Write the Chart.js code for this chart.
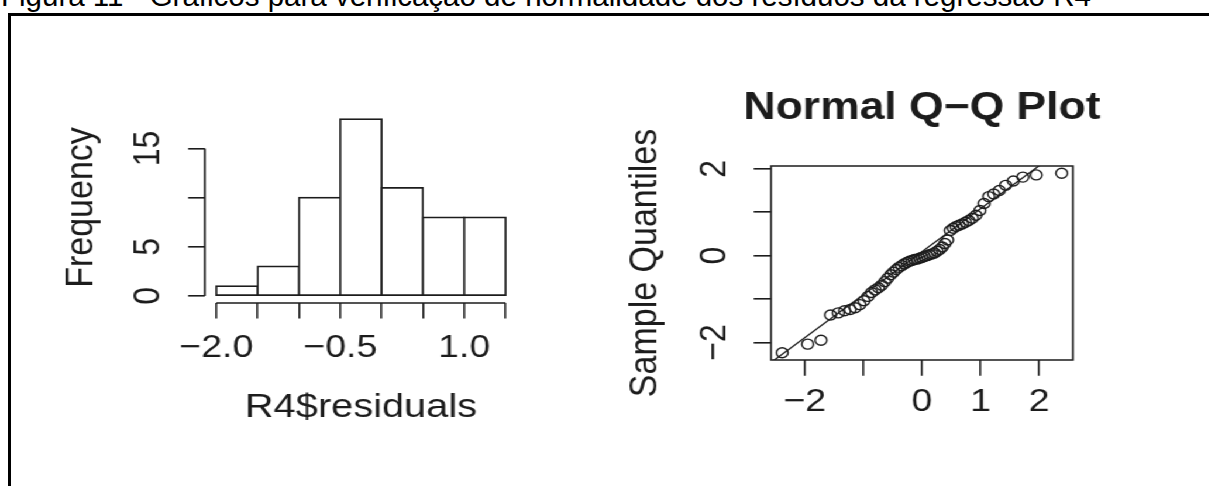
<!DOCTYPE html>
<html lang="pt">
<head>
<meta charset="utf-8">
<title>Figura 11</title>
<script src="https://cdn.jsdelivr.net/npm/chart.js@4.4.1/dist/chart.umd.min.js"></script>
<style>
  html, body { margin: 0; padding: 0; background: #fff; width: 1209px; height: 486px; overflow: hidden; }
  #caption { position: absolute; left: 1px; top: -19.5px; font: 29.5px/1 "Liberation Sans", Arial, sans-serif; color: #000; white-space: nowrap; }
  #panels { position: absolute; left: 0; top: 0; width: 1034px; height: 486px; transform: scaleX(1.17); transform-origin: 0 0; }
  #hist { position: absolute; left: 0; top: 0; }
  #qq { position: absolute; left: 520px; top: 0; }
  #frameTop { position: absolute; left: 8px; top: 12.5px; width: 1201px; height: 3px; background: #000; }
  #frameLeft { position: absolute; left: 8px; top: 12.5px; width: 3px; height: 474px; background: #000; }
</style>
</head>
<body>
<div id="caption">Figura 11 - Gráficos para verificação de normalidade dos resíduos da regressão R4</div>
<div id="panels">
  <canvas id="hist" width="500" height="486"></canvas>
  <canvas id="qq" width="513" height="486"></canvas>
</div>
<div id="frameTop"></div>
<div id="frameLeft"></div>
<script>
// Histogram of the residuals: bin edges and frequencies
const histBreaks = [-2.0, -1.5, -1.0, -0.5, 0.0, 0.5, 1.0, 1.5];
const histCounts = [1, 3, 10, 18, 11, 8, 8];
const histXTicks = [-2.0, -1.5, -1.0, -0.5, 0.0, 0.5, 1.0, 1.5];
const histXTickLabels = ['\u22122.0', '', '', '\u22120.5', '', '', '1.0', ''];
const histYTicks = [0, 5, 10, 15];
const histYTickLabels = ['0', '5', '', '15'];

// Normal Q-Q plot: theoretical vs sample quantiles (59 residuals)
const qqTheoretical = [
  -2.387, -1.952, -1.724, -1.561, -1.430, -1.321, -1.226, -1.141, -1.062, -0.990,
  -0.923, -0.860, -0.800, -0.743, -0.688, -0.635, -0.584, -0.534, -0.485, -0.438,
  -0.392, -0.347, -0.302, -0.258, -0.214, -0.171, -0.128, -0.085, -0.042, 0.000,
   0.042,  0.085,  0.128,  0.171,  0.214,  0.258,  0.302,  0.347,  0.392,  0.438,
   0.485,  0.534,  0.584,  0.635,  0.688,  0.743,  0.800,  0.860,  0.923,  0.990,
   1.062,  1.141,  1.226,  1.321,  1.430,  1.561,  1.724,  1.952,  2.387
];
const qqSample = [
  -2.24, -2.04, -1.95, -1.37, -1.32, -1.27, -1.24, -1.20, -1.13, -1.04,
  -0.94, -0.85, -0.79, -0.74, -0.68, -0.60, -0.52, -0.44, -0.38, -0.32,
  -0.27, -0.23, -0.19, -0.16, -0.13, -0.11, -0.09, -0.08, -0.06, -0.04,
  -0.02,  0.00,  0.02,  0.04,  0.06,  0.10,  0.14,  0.20,  0.28,  0.36,
   0.58,  0.63,  0.67,  0.70,  0.73,  0.77,  0.81,  0.86,  0.93,  1.04,
   1.20,  1.36,  1.42,  1.50,  1.62,  1.72,  1.81,  1.86,  1.90
];
// reference line (qqline) endpoints
const qqLineX = [-3.0, 3.0];
const qqLineY = [-2.88, 3.06];
const qqXTicks = [-2, -1, 0, 1, 2];
const qqXTickLabels = ['\u22122', '', '0', '1', '2'];
const qqYTicks = [-2, -1, 0, 1, 2];
const qqYTickLabels = ['\u22122', '', '0', '', '2'];

const INK = '#1c1c1c';
const FAMILY = '"Liberation Sans", Arial, Helvetica, sans-serif';
const LABEL_SIZE = 34;
Chart.defaults.font.family = FAMILY;
Chart.defaults.font.size = 32;
Chart.defaults.color = INK;

// R-style axis limits: data range widened by 4% on each side
function padRange(lo, hi) {
  const d = (hi - lo) * 0.04;
  return [lo - d, hi + d];
}

function fixedTicks(values) {
  return scale => { scale.ticks = values.map(v => ({ value: v })); };
}

// Axis lines limited to the tick range, rotated y labels, optional box and title
function rAxes(cfg) {
  return {
    id: 'rAxes',
    afterDraw(chart) {
      const { ctx, chartArea: a } = chart;
      const x = chart.scales.x, y = chart.scales.y;
      ctx.save();
      ctx.strokeStyle = INK;
      ctx.lineWidth = 1.6;
      ctx.beginPath();
      if (cfg.box) {
        ctx.rect(a.left, a.top, a.right - a.left, a.bottom - a.top);
      } else {
        ctx.moveTo(x.getPixelForValue(cfg.xTicks[0]), a.bottom);
        ctx.lineTo(x.getPixelForValue(cfg.xTicks[cfg.xTicks.length - 1]), a.bottom);
        ctx.moveTo(a.left, y.getPixelForValue(cfg.yTicks[0]));
        ctx.lineTo(a.left, y.getPixelForValue(cfg.yTicks[cfg.yTicks.length - 1]));
      }
      ctx.stroke();

      ctx.fillStyle = INK;
      ctx.font = '32px ' + FAMILY;
      ctx.textAlign = 'center';
      ctx.textBaseline = 'middle';
      cfg.yTicks.forEach((v, i) => {
        const t = cfg.yLabels[i];
        if (!t) return;
        ctx.save();
        ctx.translate(a.left - cfg.yLabelGap, y.getPixelForValue(v));
        ctx.rotate(-Math.PI / 2);
        ctx.fillText(t, 0, 0);
        ctx.restore();
      });

      if (cfg.title) {
        ctx.font = 'bold 38px ' + FAMILY;
        ctx.textBaseline = 'alphabetic';
        ctx.fillText(cfg.title, (a.left + a.right) / 2, cfg.titleBaseline);
      }
      ctx.restore();
    }
  };
}

// ---------- Histogram ----------
const histX = padRange(histBreaks[0], histBreaks[histBreaks.length - 1]);
const histY = padRange(0, Math.max(...histCounts));

new Chart(document.getElementById('hist'), {
  type: 'bar',
  data: {
    datasets: [{
      data: histCounts.map((c, i) => ({ x: (histBreaks[i] + histBreaks[i + 1]) / 2, y: c })),
      backgroundColor: '#ffffff',
      borderColor: INK,
      borderWidth: 1.7,
      borderSkipped: false,
      inflateAmount: 0.85,
      barPercentage: 1,
      categoryPercentage: 1
    }]
  },
  options: {
    responsive: false,
    animation: false,
    devicePixelRatio: 1,
    layout: { autoPadding: false, padding: { left: 40, right: 58, top: 112, bottom: 57 } },
    plugins: { legend: { display: false }, tooltip: { enabled: false } },
    scales: {
      x: {
        type: 'linear',
        position: 'bottom',
        offset: false,
        min: histX[0], max: histX[1],
        afterBuildTicks: fixedTicks(histXTicks),
        afterFit: s => { s.height = 126; },
        border: { display: false },
        grid: { offset: false, drawOnChartArea: false, drawTicks: true, tickLength: 15.6, color: INK, lineWidth: 1.6 },
        ticks: {
          autoSkip: false, maxRotation: 0, minRotation: 0, padding: 10.5, color: INK,
          callback: (v, i) => histXTickLabels[i]
        },
        title: { display: true, text: 'R4$residuals', color: INK, font: { size: LABEL_SIZE }, padding: { top: 0, bottom: 1.1 } }
      },
      y: {
        type: 'linear',
        position: 'left',
        min: histY[0], max: histY[1],
        afterBuildTicks: fixedTicks(histYTicks),
        afterFit: s => { s.width = 135; },
        border: { display: false },
        grid: { drawOnChartArea: false, drawTicks: true, tickLength: 14.2, color: INK, lineWidth: 1.6 },
        ticks: { display: false },
        title: { display: true, text: 'Frequency', color: INK, font: { size: LABEL_SIZE }, padding: { top: 9.4, bottom: 0 } }
      }
    }
  },
  plugins: [rAxes({ box: false, xTicks: histXTicks, yTicks: histYTicks, yLabels: histYTickLabels, yLabelGap: 48 })]
});

// ---------- Normal Q-Q plot ----------
const qqX = padRange(Math.min(...qqTheoretical), Math.max(...qqTheoretical));
const qqY = padRange(Math.min(...qqSample), Math.max(...qqSample));

new Chart(document.getElementById('qq'), {
  type: 'scatter',
  data: {
    datasets: [
      {
        type: 'line',
        data: qqLineX.map((v, i) => ({ x: v, y: qqLineY[i] })),
        borderColor: INK,
        borderWidth: 1.3,
        pointRadius: 0,
        fill: false
      },
      {
        data: qqTheoretical.map((v, i) => ({ x: v, y: qqSample[i] })),
        pointStyle: 'circle',
        pointRadius: 5,
        pointBorderWidth: 1.4,
        pointBorderColor: INK,
        pointBackgroundColor: 'rgba(0,0,0,0)'
      }
    ]
  },
  options: {
    responsive: false,
    animation: false,
    devicePixelRatio: 1,
    layout: { autoPadding: false, padding: { left: 5, right: 116, top: 166, bottom: 46 } },
    plugins: { legend: { display: false }, tooltip: { enabled: false } },
    scales: {
      x: {
        type: 'linear',
        position: 'bottom',
        min: qqX[0], max: qqX[1],
        afterBuildTicks: fixedTicks(qqXTicks),
        afterFit: s => { s.height = 80; },
        border: { display: false },
        grid: { drawOnChartArea: false, drawTicks: true, tickLength: 15.7, color: INK, lineWidth: 1.6 },
        ticks: {
          autoSkip: false, maxRotation: 0, minRotation: 0, padding: 7.5, color: INK,
          callback: (v, i) => qqXTickLabels[i]
        }
      },
      y: {
        type: 'linear',
        position: 'left',
        min: qqY[0], max: qqY[1],
        afterBuildTicks: fixedTicks(qqYTicks),
        afterFit: s => { s.width = 134; },
        border: { display: false },
        grid: { drawOnChartArea: false, drawTicks: true, tickLength: 14.8, color: INK, lineWidth: 1.6 },
        ticks: { display: false },
        title: { display: true, text: 'Sample Quantiles', color: INK, font: { size: LABEL_SIZE }, padding: { top: 6.7, bottom: 0 } }
      }
    }
  },
  plugins: [rAxes({ box: true, xTicks: qqXTicks, yTicks: qqYTicks, yLabels: qqYTickLabels, yLabelGap: 48, title: 'Normal Q\u2212Q Plot', titleBaseline: 118.6 })]
});
</script>
</body>
</html>
